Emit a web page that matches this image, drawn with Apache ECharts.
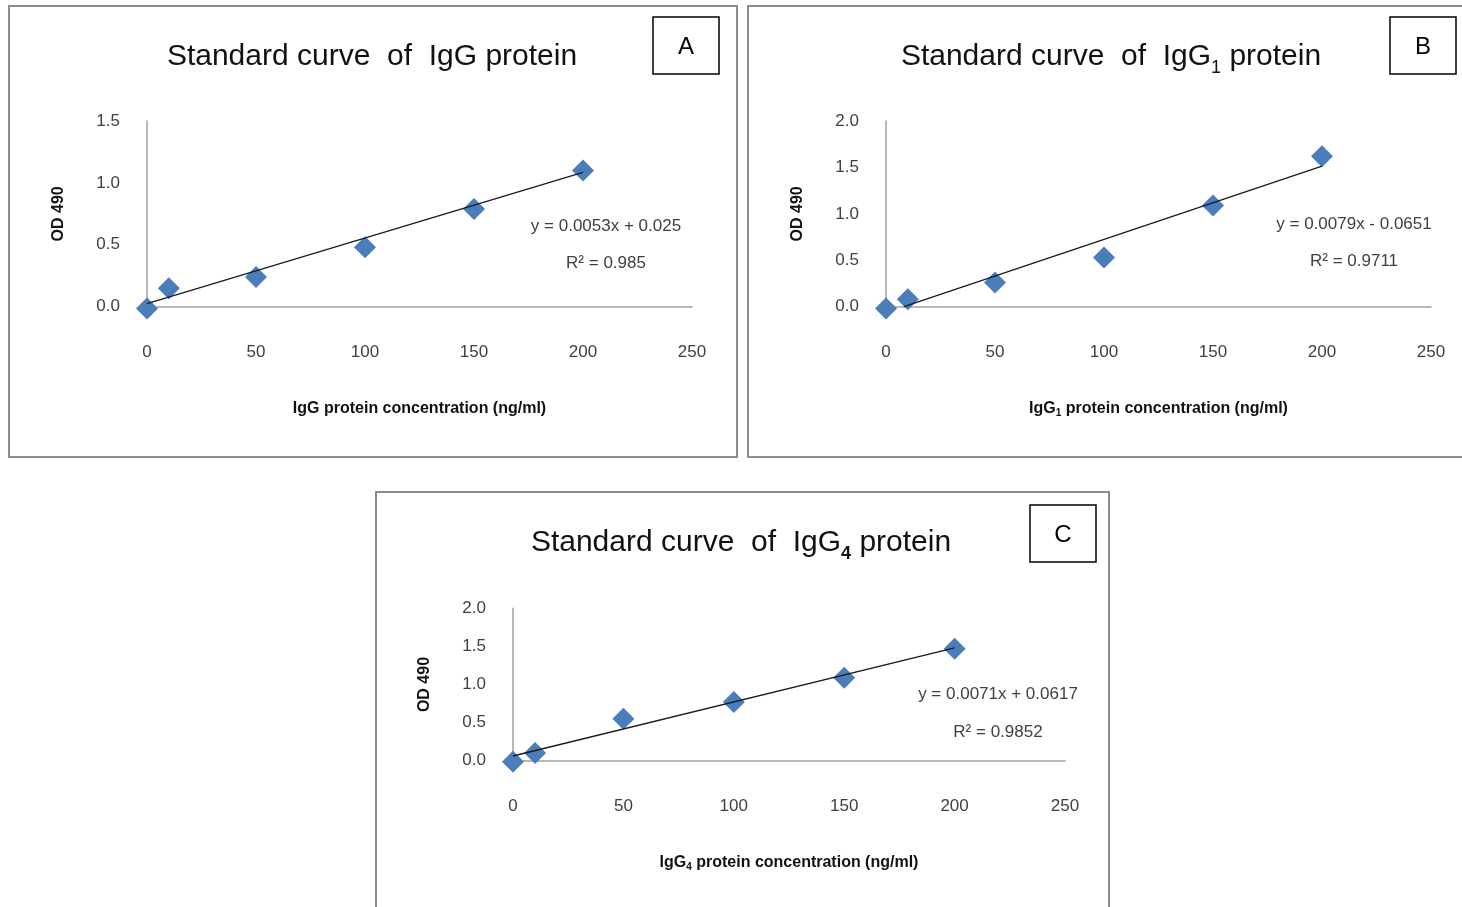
<!DOCTYPE html>
<html><head><meta charset="utf-8">
<script src="https://cdn.jsdelivr.net/npm/echarts@6/dist/echarts.min.js"></script>
<style>html,body{margin:0;padding:0;background:#fff}#c{width:1462px;height:907px}</style>
</head><body><div id="c"></div>
<script>
// ---- data ----
const conc = [0, 10, 50, 100, 150, 200];
const odIgG  = [-0.015, 0.15, 0.24, 0.48, 0.79, 1.10];
const odIgG1 = [-0.02, 0.08, 0.26, 0.53, 1.09, 1.62];
const odIgG4 = [-0.015, 0.10, 0.55, 0.77, 1.09, 1.47];
const slopes = [0.0053, 0.0079, 0.0071];
const intercepts = [0.025, -0.0651, 0.0617];
const equations = ['y = 0.0053x + 0.025', 'y = 0.0079x - 0.0651', 'y = 0.0071x + 0.0617'];
const r2Labels = ['R² = 0.985', 'R² = 0.9711', 'R² = 0.9852'];
const yMaxes = [1.5, 2.0, 2.0];
const xMax = 250;
const xStep = 50;
const yStep = 0.5;
const panelLetters = ['A', 'B', 'C'];
const subs = ['', '1', '4'];

// ---- layout ----
const FONT = "'Liberation Sans', Arial, Helvetica, sans-serif";
const grids = [
  {left: 147, top: 121, width: 545, height: 185.7},
  {left: 886, top: 121, width: 545, height: 185.7},
  {left: 513, top: 608.3, width: 552, height: 152.4}
];
const xNameGaps = [94, 92, 92];
const subWeights = ['normal', 'normal', 'bold'];
const titlePos = [[372, 56], [1111, 56], [741, 542]];
const eqPos = [[606, 226, 263], [1354, 224, 261], [998, 694, 732]];
const letterBox = [[653, 17], [1390, 17], [1030, 505]];
const outerBox = [[9, 6, 728, 451], [748, 6, 740, 451], [376, 492, 733, 430]];
const seriesY = [odIgG, odIgG1, odIgG4];

function titleText(i) {
  return subs[i] ? '{a|Standard curve  of  IgG}{s|' + subs[i] + '}{a| protein}'
                 : '{a|Standard curve  of  IgG protein}';
}
function xName(i) {
  return subs[i] ? '{a|IgG}{s|' + subs[i] + '}{a| protein concentration (ng/ml)}'
                 : '{a|IgG protein concentration (ng/ml)}';
}

const option = {
  animation: false,
  backgroundColor: '#fff',
  grid: grids.map(g => Object.assign({containLabel: false, outerBoundsMode: 'none'}, g)),
  xAxis: grids.map((g, i) => ({
    type: 'value', gridIndex: i, min: 0, max: xMax, interval: xStep,
    axisLine: {show: true, onZero: false, lineStyle: {color: '#a0a0a0', width: 1.5}},
    axisTick: {show: false}, splitLine: {show: false},
    axisLabel: {margin: 37, color: '#404040', fontSize: 17, fontFamily: FONT},
    name: xName(i), nameLocation: 'middle', nameGap: xNameGaps[i],
    nameTextStyle: {
      rich: {
        a: {fontSize: 16, fontWeight: 'bold', color: '#111', fontFamily: FONT},
        s: {fontSize: 10, fontWeight: 'bold', color: '#111', fontFamily: FONT, padding: [10, 0, 0, 0]}
      }
    }
  })),
  yAxis: grids.map((g, i) => ({
    type: 'value', gridIndex: i, min: 0, max: yMaxes[i], interval: yStep,
    axisLine: {show: true, onZero: false, lineStyle: {color: '#a0a0a0', width: 1.5}},
    axisTick: {show: false}, splitLine: {show: false},
    axisLabel: {margin: 27, color: '#404040', fontSize: 17, fontFamily: FONT,
      formatter: v => v.toFixed(1)},
    name: 'OD 490', nameLocation: 'middle', nameGap: 80, nameRotate: 90,
    nameTextStyle: {fontSize: 16, fontWeight: 'bold', color: '#111', fontFamily: FONT}
  })),
  series: []
};

seriesY.forEach((ys, i) => {
  option.series.push({
    type: 'scatter', xAxisIndex: i, yAxisIndex: i, clip: false,
    symbol: 'diamond', symbolSize: 22,
    itemStyle: {color: '#4a7ebb', opacity: 1},
    data: conc.map((x, j) => [x, ys[j]]), z: 2
  });
  const m = slopes[i], b = intercepts[i];
  const x0 = b < 0 ? -b / m : conc[0];
  const x1 = conc[conc.length - 1];
  option.series.push({
    type: 'line', xAxisIndex: i, yAxisIndex: i, silent: true, symbol: 'none',
    lineStyle: {color: '#1a1a1a', width: 1.3}, z: 3,
    data: [[x0, m * x0 + b], [x1, m * x1 + b]]
  });
});

const graphics = [];
outerBox.forEach(r => graphics.push({
  type: 'rect', shape: {x: r[0], y: r[1], width: r[2], height: r[3]},
  style: {fill: null, stroke: '#8c8c8c', lineWidth: 2}, silent: true, z: 0
}));
letterBox.forEach((p, i) => {
  graphics.push({type: 'rect', shape: {x: p[0], y: p[1], width: 66, height: 57},
    style: {fill: '#fff', stroke: '#000', lineWidth: 1.5}, silent: true});
  graphics.push({type: 'text', x: p[0] + 33, y: p[1] + 30,
    style: {text: panelLetters[i], font: '24px ' + FONT, fill: '#000',
      textAlign: 'center', textVerticalAlign: 'middle'}, silent: true});
});
titlePos.forEach((p, i) => graphics.push({
  type: 'text', x: p[0], y: p[1] + 1,
  style: {text: titleText(i), textAlign: 'center', textVerticalAlign: 'middle',
    rich: {
      a: {fontSize: 30, fontFamily: FONT, fill: '#111', color: '#111'},
      s: {fontSize: 18, fontFamily: FONT, fill: '#111', color: '#111', fontWeight: subWeights[i], padding: [22, 0, 0, 0]}
    }}, silent: true
}));
eqPos.forEach((p, i) => {
  graphics.push({type: 'text', x: p[0], y: p[1],
    style: {text: equations[i], font: '17px ' + FONT, fill: '#404040',
      textAlign: 'center', textVerticalAlign: 'middle'}, silent: true});
  graphics.push({type: 'text', x: p[0], y: p[2],
    style: {text: r2Labels[i], font: '17px ' + FONT, fill: '#404040',
      textAlign: 'center', textVerticalAlign: 'middle'}, silent: true});
});
option.graphic = graphics;

const chart = echarts.init(document.getElementById('c'), null, {renderer: 'canvas'});
chart.setOption(option);
</script>
</body></html>
